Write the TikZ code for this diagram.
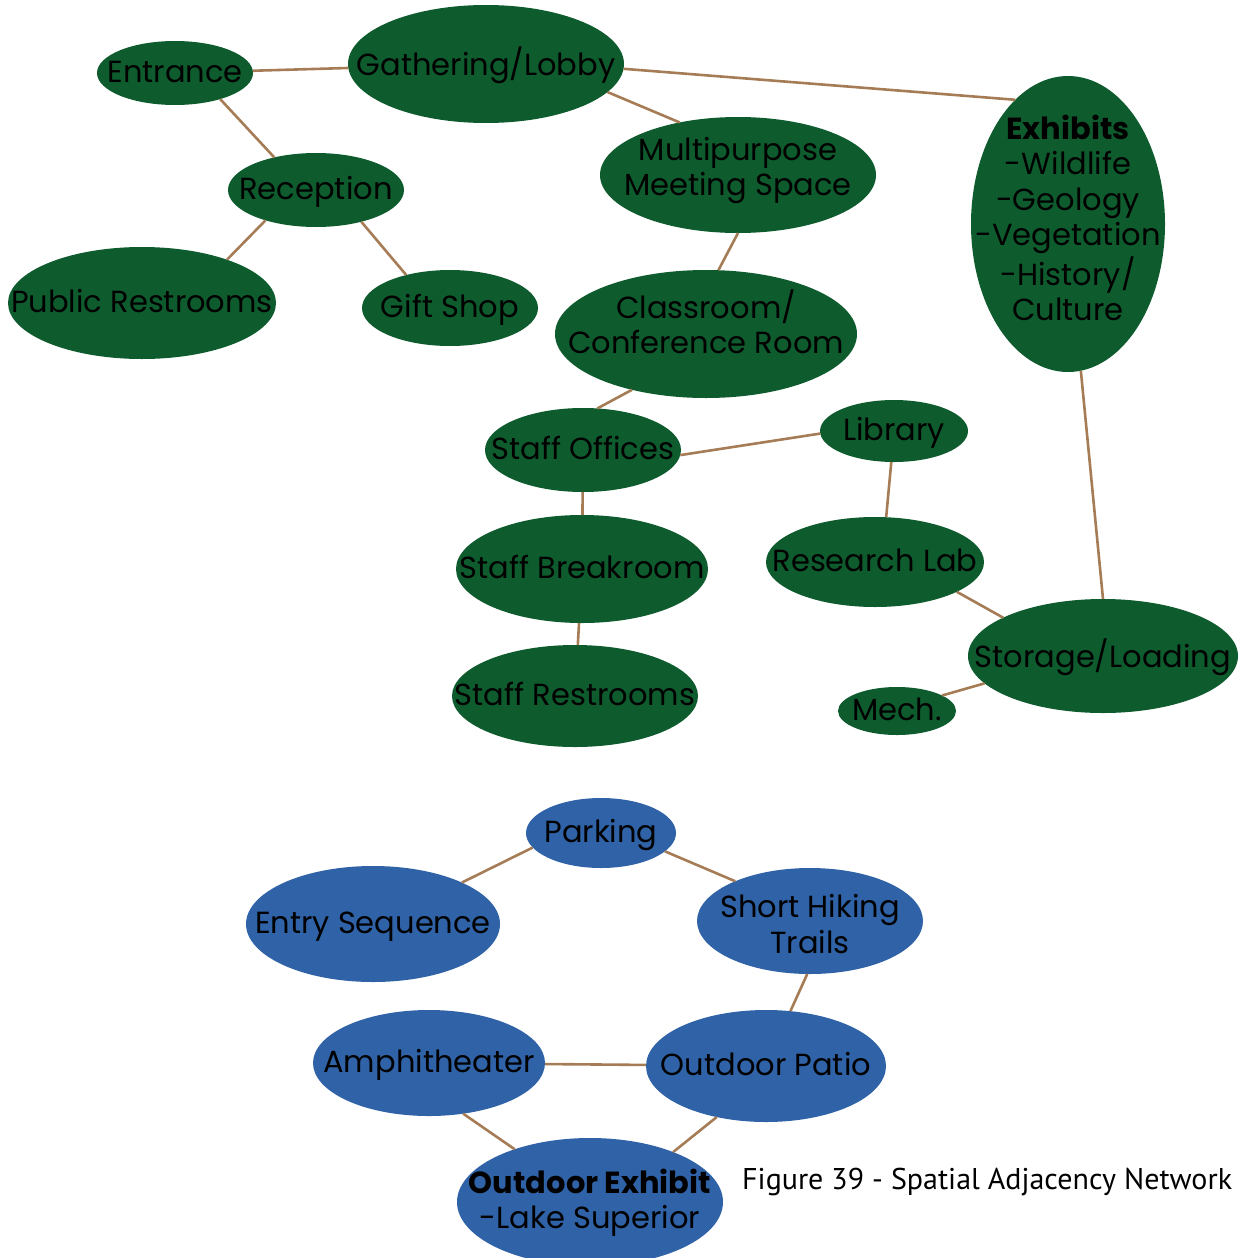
\documentclass[tikz,border=0pt]{standalone}
\usepackage{fontspec}
\setmainfont{Poppins}
\newfontfamily\capfont{PT Sans}
\usetikzlibrary{shapes.geometric}
\definecolor{ngreen}{RGB}{14,92,46}
\definecolor{nblue}{RGB}{47,98,166}
\definecolor{link}{RGB}{165,124,86}
\newcommand\lbl[2][-18pt]{\makebox[0pt][c]{\raisebox{#1}{\smash{\begin{tabular}{@{}c@{}}#2\end{tabular}}}}}
\tikzset{
  room/.style={ellipse, inner sep=0pt, outer sep=0pt, text=black,
    font=\fontsize{30.5}{35.5}\selectfont},
  gbox/.style={room, fill=ngreen},
  bbox/.style={room, fill=nblue},
  sz/.style 2 args={minimum width=#1pt, minimum height=#2pt},
  edge/.style={draw=link, line width=2.6pt}
}
\begin{document}
\begin{tikzpicture}[x=1pt,y=-1pt]
\useasboundingbox (0,0) rectangle (1247,1258);
\clip (0,0) rectangle (1247,1258);
% green network
\node[gbox, sz={156}{64}] (ent) at (175,73) {\lbl{Entrance}};
\node[gbox, sz={276}{118}] (lob) at (486,64) {\lbl{Gathering/Lobby}};
\node[gbox, sz={176}{74}] (rec) at (316,190) {\lbl{Reception}};
\node[gbox, sz={268}{112}] (pub) at (142,303) {\lbl{Public Restrooms}};
\node[gbox, sz={176}{76}] (gift) at (450,308) {\lbl{Gift Shop}};
\node[gbox, sz={276}{116}] (mult) at (738,175) {\lbl[-4pt]{Multipurpose\\Meeting Space}};
\node[gbox, sz={194}{296}] (exh) at (1068,224) {\lbl[-10pt]{\textbf{Exhibits}\\-Wildlife\\-Geology\\-Vegetation\\-History/\\Culture}};
\node[gbox, sz={302}{128}] (cls) at (706,334) {\lbl[2pt]{Classroom/\\Conference Room}};
\node[gbox, sz={196}{84}] (off) at (583,450) {\lbl{Staff Offices}};
\node[gbox, sz={148}{62}] (lib) at (894,431) {\lbl{Library}};
\node[gbox, sz={252}{108}] (brk) at (582,569) {\lbl{Staff Breakroom}};
\node[gbox, sz={218}{90}] (lab) at (875,562) {\lbl{Research Lab}};
\node[gbox, sz={270}{114}] (sto) at (1103,656) {\lbl{Storage/Loading}};
\node[gbox, sz={118}{48}] (mech) at (897,711) {\lbl{Mech.}};
\node[gbox, sz={246}{102}] (srr) at (575,696) {\lbl{Staff Restrooms}};
% blue network
\node[bbox, sz={150}{70}] (park) at (601,833) {\lbl{Parking}};
\node[bbox, sz={254}{116}] (entry) at (373,924) {\lbl{Entry Sequence}};
\node[bbox, sz={226}{106}] (hike) at (810,921) {\lbl[-27pt]{Short Hiking\\Trails}};
\node[bbox, sz={232}{106}] (amph) at (429,1063) {\lbl{Amphitheater}};
\node[bbox, sz={240}{112}] (patio) at (766,1066) {\lbl{Outdoor Patio}};
\node[bbox, sz={266}{128}] (oext) at (590,1202) {\lbl[-16pt]{\textbf{Outdoor Exhibit}\\-Lake Superior}};
% caption
\node[anchor=west, inner sep=0pt, font=\capfont\fontsize{30}{32}\selectfont] (cap) at (742,1182) {Figure 39 - Spatial Adjacency Network};
% connectors
\draw[edge] (ent) -- (lob);
\draw[edge] (ent.-30) -- (rec.142);
\draw[edge] (rec.211) -- (pub.27);
\draw[edge] (rec.-35) -- (gift.143);
\draw[edge] (lob.-13) -- (mult.138);
\draw[edge] (lob.-2) -- (exh.113);
\draw[edge] (mult.270) -- (cls.79);
\draw[edge] (cls.217) -- (off.71);
\draw[edge] (off.-3) -- (lib.182);
\draw[edge] (off) -- (brk);
\draw[edge] (brk) -- (srr);
\draw[edge] (lib.265) -- (lab.76);
\draw[edge] (lab.-20) -- (sto.159);
\draw[edge] (exh.275) -- (sto.90);
\draw[edge] (sto.193) -- (mech.19);
\draw[edge] (park.192) -- (entry.25);
\draw[edge] (park.-16) -- (hike.152);
\draw[edge] (hike.267) -- (patio.66);
\draw[edge] (amph) -- (patio);
\draw[edge] (amph.-56) -- (oext.145);
\draw[edge] (patio.226) -- (oext.31);
\end{tikzpicture}
\end{document}
